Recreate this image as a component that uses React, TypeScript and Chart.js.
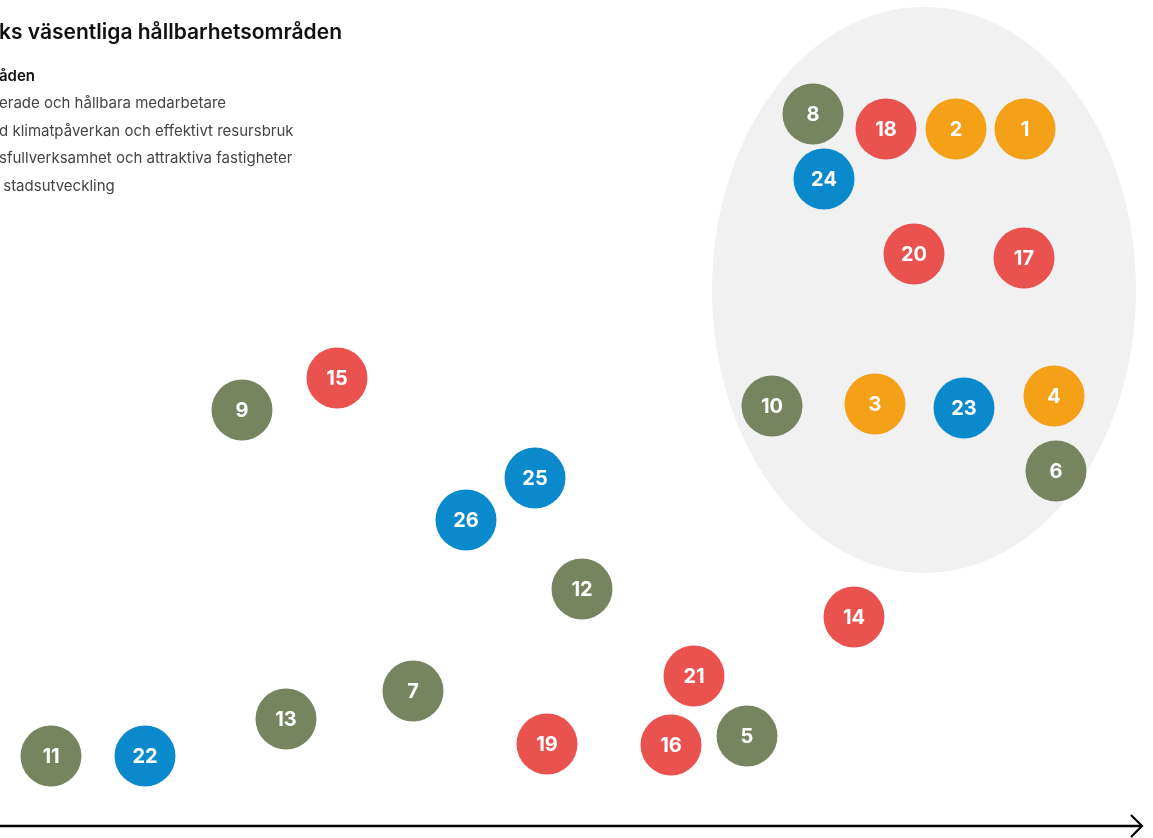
import React, { useEffect, useRef } from "react";
import { Chart, registerables } from "chart.js";

Chart.register(...registerables);

// Visible (cropped) texts
const titleText = "ks väsentliga hållbarhetsområden";
const legendHeader = "åden";
const legendItems = [
  "erade och hållbara medarbetare",
  "d klimatpåverkan och effektivt resursbruk",
  "sfullverksamhet och attraktiva fastigheter",
  " stadsutveckling",
];

// Areas: [label, x (business impact), y (stakeholder importance)]
const greenIds = [8, 10, 6, 9, 12, 7, 13, 5, 11];
const greenX = [81.3, 77.2, 105.6, 24.2, 58.2, 41.3, 28.6, 74.7, 5.1];
const greenY = [72.4, 43.2, 36.7, 42.8, 24.9, 14.7, 11.9, 10.2, 8.2];

const redIds = [18, 20, 17, 15, 14, 21, 19, 16];
const redX = [88.6, 91.4, 102.4, 33.7, 85.4, 69.4, 54.7, 67.1];
const redY = [70.9, 58.4, 58.0, 46.0, 22.1, 16.2, 9.4, 9.3];

const orangeIds = [1, 2, 3, 4];
const orangeX = [102.5, 95.6, 87.5, 105.4];
const orangeY = [70.9, 70.9, 43.4, 44.2];

const blueIds = [24, 23, 25, 26, 22];
const blueX = [82.4, 96.4, 53.5, 46.6, 14.5];
const blueY = [65.9, 43.0, 36.0, 31.8, 8.2];

const GREEN = "#768560";
const RED = "#E9524F";
const ORANGE = "#F5A118";
const BLUE = "#0A89CC";

// Focus area ellipse (data units)
const ellipseCenter = [92.4, 54.8];
const ellipseRadius = [21.2, 28.3];

const makeData = (ids: number[], xs: number[], ys: number[]) =>
  ids.map((id, i) => ({ x: xs[i], y: ys[i], id }));

export default function App() {
  const ref = useRef<HTMLCanvasElement | null>(null);

  useEffect(() => {
    if (!ref.current) return;

    const ellipsePlugin = {
      id: "ellipseBg",
      beforeDatasetsDraw(chart: any) {
        const { ctx, scales } = chart;
        const cx = scales.x.getPixelForValue(ellipseCenter[0]);
        const cy = scales.y.getPixelForValue(ellipseCenter[1]);
        const rx = Math.abs(scales.x.getPixelForValue(ellipseCenter[0] + ellipseRadius[0]) - cx);
        const ry = Math.abs(scales.y.getPixelForValue(ellipseCenter[1] + ellipseRadius[1]) - cy);
        ctx.save();
        ctx.beginPath();
        ctx.ellipse(cx, cy, rx, ry, 0, 0, Math.PI * 2);
        ctx.fillStyle = "#F1F1F1";
        ctx.fill();
        ctx.restore();
      },
    };

    const axisPlugin = {
      id: "axisArrow",
      afterDraw(chart: any) {
        const { ctx, scales } = chart;
        const y = scales.y.getPixelForValue(1.2);
        const x0 = scales.x.getPixelForValue(0);
        const x1 = scales.x.getPixelForValue(114.2);
        ctx.save();
        ctx.strokeStyle = "#000";
        ctx.lineWidth = 2.5;
        ctx.beginPath();
        ctx.moveTo(x0, y);
        ctx.lineTo(x1, y);
        ctx.stroke();
        ctx.lineWidth = 2.2;
        ctx.beginPath();
        ctx.moveTo(x1 - 11, y - 11);
        ctx.lineTo(x1, y);
        ctx.lineTo(x1 - 11, y + 11);
        ctx.stroke();
        ctx.restore();
      },
    };

    const labelPlugin = {
      id: "bubbleLabels",
      afterDatasetsDraw(chart: any) {
        const { ctx } = chart;
        ctx.save();
        ctx.fillStyle = "#FFFFFF";
        ctx.font = "700 20px Inter, 'Noto Sans', sans-serif";
        ctx.textAlign = "center";
        ctx.textBaseline = "middle";
        chart.data.datasets.forEach((ds: any, di: number) => {
          const meta = chart.getDatasetMeta(di);
          meta.data.forEach((pt: any, i: number) => {
            ctx.fillText(String(ds.data[i].id), pt.x, pt.y + 1);
          });
        });
        ctx.restore();
      },
    };

    const chart = new Chart(ref.current, {
      type: "scatter",
      data: {
        datasets: [
          { label: "green", data: makeData(greenIds, greenX, greenY), backgroundColor: GREEN },
          { label: "red", data: makeData(redIds, redX, redY), backgroundColor: RED },
          { label: "orange", data: makeData(orangeIds, orangeX, orangeY), backgroundColor: ORANGE },
          { label: "blue", data: makeData(blueIds, blueX, blueY), backgroundColor: BLUE },
        ].map((d) => ({
          ...d,
          pointRadius: 30.5,
          pointHoverRadius: 30.5,
          borderWidth: 0,
          pointBorderWidth: 0,
        })),
      },
      options: {
        responsive: false,
        animation: false,
        layout: { padding: 0, autoPadding: false } as any,
        clip: false as any,
        plugins: {
          legend: { display: false },
          tooltip: { enabled: false },
          title: { display: false },
        },
        scales: {
          x: { type: "linear", min: 0, max: 115.3, display: false },
          y: { type: "linear", min: 0, max: 83.8, display: false },
        },
      },
      plugins: [ellipsePlugin, labelPlugin, axisPlugin],
    });
    return () => chart.destroy();
  }, []);

  const textFont = "Inter, 'Noto Sans', sans-serif";

  return (
    <div style={{ position: "fixed", left: 0, top: 0, width: 1153, height: 838, overflow: "hidden", background: "#fff" }}>
      <canvas ref={ref} width={1153} height={838} style={{ position: "absolute", left: 0, top: 0 }} />
      <div
        style={{
          position: "absolute",
          left: -1,
          top: 18,
          fontFamily: textFont,
          fontWeight: 600,
          fontSize: 21,
          lineHeight: "28px",
          color: "#111",
          whiteSpace: "pre",
        }}
      >
        {titleText}
      </div>
      <div
        style={{
          position: "absolute",
          left: -1,
          top: 66,
          fontFamily: textFont,
          fontWeight: 600,
          fontSize: 15,
          lineHeight: "20px",
          color: "#111",
          whiteSpace: "pre",
        }}
      >
        {legendHeader}
      </div>
      {legendItems.map((t, i) => (
        <div
          key={i}
          style={{
            position: "absolute",
            left: -1,
            top: 93 + i * 27.6,
            fontFamily: textFont,
            fontWeight: 400,
            fontSize: 15,
            lineHeight: "20px",
            color: "#444",
            whiteSpace: "pre",
          }}
        >
          {t}
        </div>
      ))}
    </div>
  );
}
